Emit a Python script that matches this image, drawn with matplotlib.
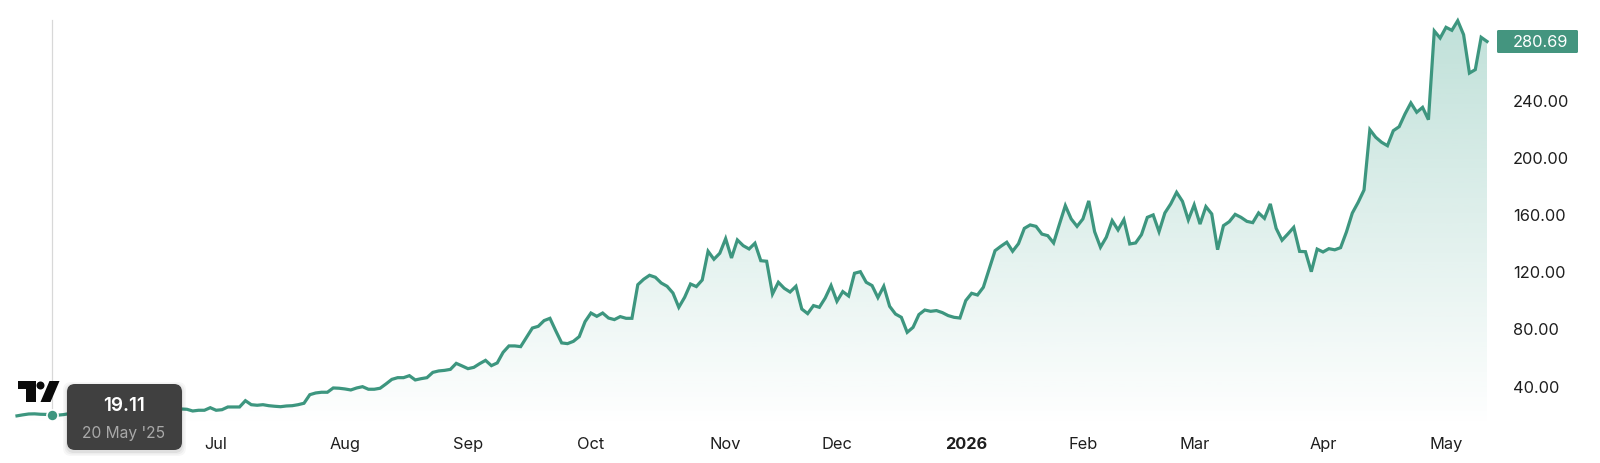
from matplotlib import pyplot as plt
from matplotlib.patches import FancyBboxPatch, Polygon, Circle
from matplotlib.transforms import Affine2D
import numpy as np

plt.rcParams['font.family'] = ['Inter', 'DejaVu Sans']

# one close per trading day
closes = [
    18.9, 19.6, 20.2, 20.3, 20.0, 19.9, 19.11, 19.4, 19.8, 20.5,
    21.0, 21.5, 21.2, 22.0, 22.5, 22.0, 23.0, 23.4, 23.1, 24.0,
    24.3, 23.8, 24.2, 24.6, 24.0, 24.5, 24.2, 23.9, 23.7, 23.5,
    22.3, 22.8, 22.8, 24.6, 22.8, 23.2, 25.1, 25.1, 25.1, 29.5,
    26.7, 26.3, 26.7, 26.0, 25.6, 25.3, 25.8, 26.0, 26.7, 27.7,
    33.7, 34.9, 35.4, 35.4, 38.4, 38.2, 37.7, 37.0, 38.4, 39.3,
    37.5, 37.5, 38.2, 41.2, 44.4, 45.6, 45.6, 47.0, 44.0, 44.9,
    45.6, 49.3, 50.3, 50.7, 51.4, 55.6, 53.8, 51.9, 52.8, 55.4,
    57.7, 54.0, 55.9, 63.3, 67.8, 67.8, 67.3, 73.8, 80.3, 81.5,
    85.5, 87.1, 78.3, 69.9, 69.4, 71.0, 74.3, 84.8, 90.8, 88.5,
    90.8, 87.3, 86.2, 88.3, 87.1, 87.1, 110.6, 114.4, 117.2, 115.8,
    111.8, 109.5, 104.8, 94.8, 101.8, 111.1, 109.3, 113.9, 134.0, 128.4,
    132.6, 142.8, 129.3, 141.9, 137.9, 135.6, 139.6, 127.4, 127.0, 104.1,
    112.3, 108.1, 105.5, 109.5, 93.6, 90.4, 96.0, 94.8, 101.3, 110.0,
    99.0, 105.8, 102.7, 118.6, 119.7, 112.3, 110.0, 101.6, 109.5, 95.5,
    90.1, 87.8, 77.3, 80.8, 89.7, 92.9, 92.0, 92.5, 91.1, 89.0,
    87.8, 87.3, 99.5, 104.6, 103.4, 108.8, 121.6, 134.4, 137.5, 140.3,
    134.0, 139.3, 150.0, 152.4, 151.4, 146.0, 144.9, 139.8, 153.0, 165.9,
    156.6, 151.4, 156.6, 169.2, 147.7, 136.8, 143.8, 155.4, 148.9, 156.1,
    139.1, 139.8, 145.6, 157.7, 159.4, 147.7, 160.8, 167.1, 175.2, 168.9,
    155.9, 166.4, 153.0, 165.2, 160.1, 135.1, 151.9, 154.7, 159.8, 157.7,
    154.9, 154.0, 160.8, 157.0, 167.1, 150.0, 141.7, 146.1, 150.7, 133.9,
    133.7, 119.7, 135.5, 133.5, 135.8, 135.0, 136.5, 147.5, 160.7, 168.2,
    176.8, 219.0, 213.7, 210.2, 207.8, 218.3, 221.1, 230.0, 237.7, 231.2,
    234.6, 226.0, 288.0, 283.1, 290.6, 288.5, 295.2, 285.5, 258.6, 261.0,
    283.6, 280.69,
]
month_labels = ['Jul', 'Aug', 'Sep', 'Oct', 'Nov', 'Dec', '2026', 'Feb', 'Mar', 'Apr', 'May']
month_days = [34, 56, 77, 98, 121, 140, 162, 182, 201, 223, 244]
price_ticks = [40, 80, 120, 160, 200, 240]
hover_day = 6
hover_date = "20 May '25"

GREEN = '#3d967f'
days = np.arange(len(closes))

fig = plt.figure(figsize=(16, 4.64), dpi=100)
ax = fig.add_axes([17 / 1600, 1 - 428 / 464, 1470 / 1600, 416 / 464])
ax.set_xlim(0, len(closes) - 1)
ax.set_ylim(11.1, 302)
for s in ax.spines.values():
    s.set_visible(False)

# gradient under the line
grad = np.zeros((256, 1, 4))
grad[:, 0, 0] = 58 / 255
grad[:, 0, 1] = 160 / 255
grad[:, 0, 2] = 136 / 255
grad[:, 0, 3] = np.linspace(0.32, 0.0, 256)
img = ax.imshow(grad, aspect='auto', extent=[0, len(closes) - 1, 11.1, 295], origin='upper', zorder=1)
area = ax.fill_between(days, closes, 11.1, color='none')
img.set_clip_path(area.get_paths()[0], ax.transData)
ax.set_xlim(0, len(closes) - 1)
ax.set_ylim(11.1, 302)

ax.plot(days, closes, color=GREEN, lw=2.3, zorder=3, solid_joinstyle='miter', clip_on=False)

# crosshair and hover dot
ax.plot([hover_day, hover_day], [closes[hover_day], 296], color='#d8d8d8', lw=0.9, zorder=2)
ax.plot([hover_day], [closes[hover_day] + 0.5], 'o', ms=8, color=GREEN, mec='white', mew=1.2, zorder=4)

ax.yaxis.tick_right()
ax.set_yticks(price_ticks)
ax.set_yticklabels(['%.2f' % p for p in price_ticks])
ax.set_xticks(month_days)
ax.set_xticklabels(month_labels)
ax.tick_params(axis='both', length=0, labelsize=11.8, labelcolor='#1e1e1e')
ax.tick_params(axis='y', pad=18.5)
ax.tick_params(axis='x', pad=6.5)
ax.get_xticklabels()[6].set_fontweight('bold')

# everything below is placed in picture pixels, y going down
px = Affine2D().scale(1, -1).translate(0, 464)

# tooltip, with a soft shadow
for grow, alpha in [(4, 0.03), (2.5, 0.04), (1, 0.06)]:
    fig.add_artist(FancyBboxPatch((67 - grow, 385 - grow + 2), 115 + 2 * grow, 66 + 2 * grow,
                                  boxstyle='round,pad=0,rounding_size=8', fc='black', ec='none',
                                  alpha=alpha, transform=px, zorder=5))
fig.add_artist(FancyBboxPatch((67, 385), 115, 66, boxstyle='round,pad=0,rounding_size=8',
                              fc='#404040', ec='none', transform=px, zorder=6))
fig.text(124.5, 406.5, '%.2f' % closes[hover_day], color='white', fontsize=13.6, fontweight='semibold',
         ha='center', va='center', transform=px, zorder=7)
fig.text(124, 434, hover_date, color='#a9a9a9', fontsize=11.2, ha='center', va='center',
         transform=px, zorder=7)

# logo
fig.add_artist(Polygon([(18, 382), (36, 382), (36, 403), (26, 403), (26, 390), (18, 390)],
                       fc='#0b0b0b', ec='none', transform=px, zorder=5))
fig.add_artist(Circle((40.5, 386.5), 4, fc='#0b0b0b', ec='none', transform=px, zorder=5))
fig.add_artist(Polygon([(49.5, 382), (59.5, 382), (50.5, 403), (40.5, 403)],
                       fc='#0b0b0b', ec='none', transform=px, zorder=5))

# last price label
fig.add_artist(FancyBboxPatch((1497, 31), 81, 23, boxstyle='round,pad=0,rounding_size=1.5',
                              fc='#44957f', ec='none', transform=px, zorder=5))
fig.text(1540.5, 43, '%.2f' % closes[-1], color='white', fontsize=11.8, ha='center', va='center',
         transform=px, zorder=6)

fig.savefig('out.png', dpi=100)
plt.close()
